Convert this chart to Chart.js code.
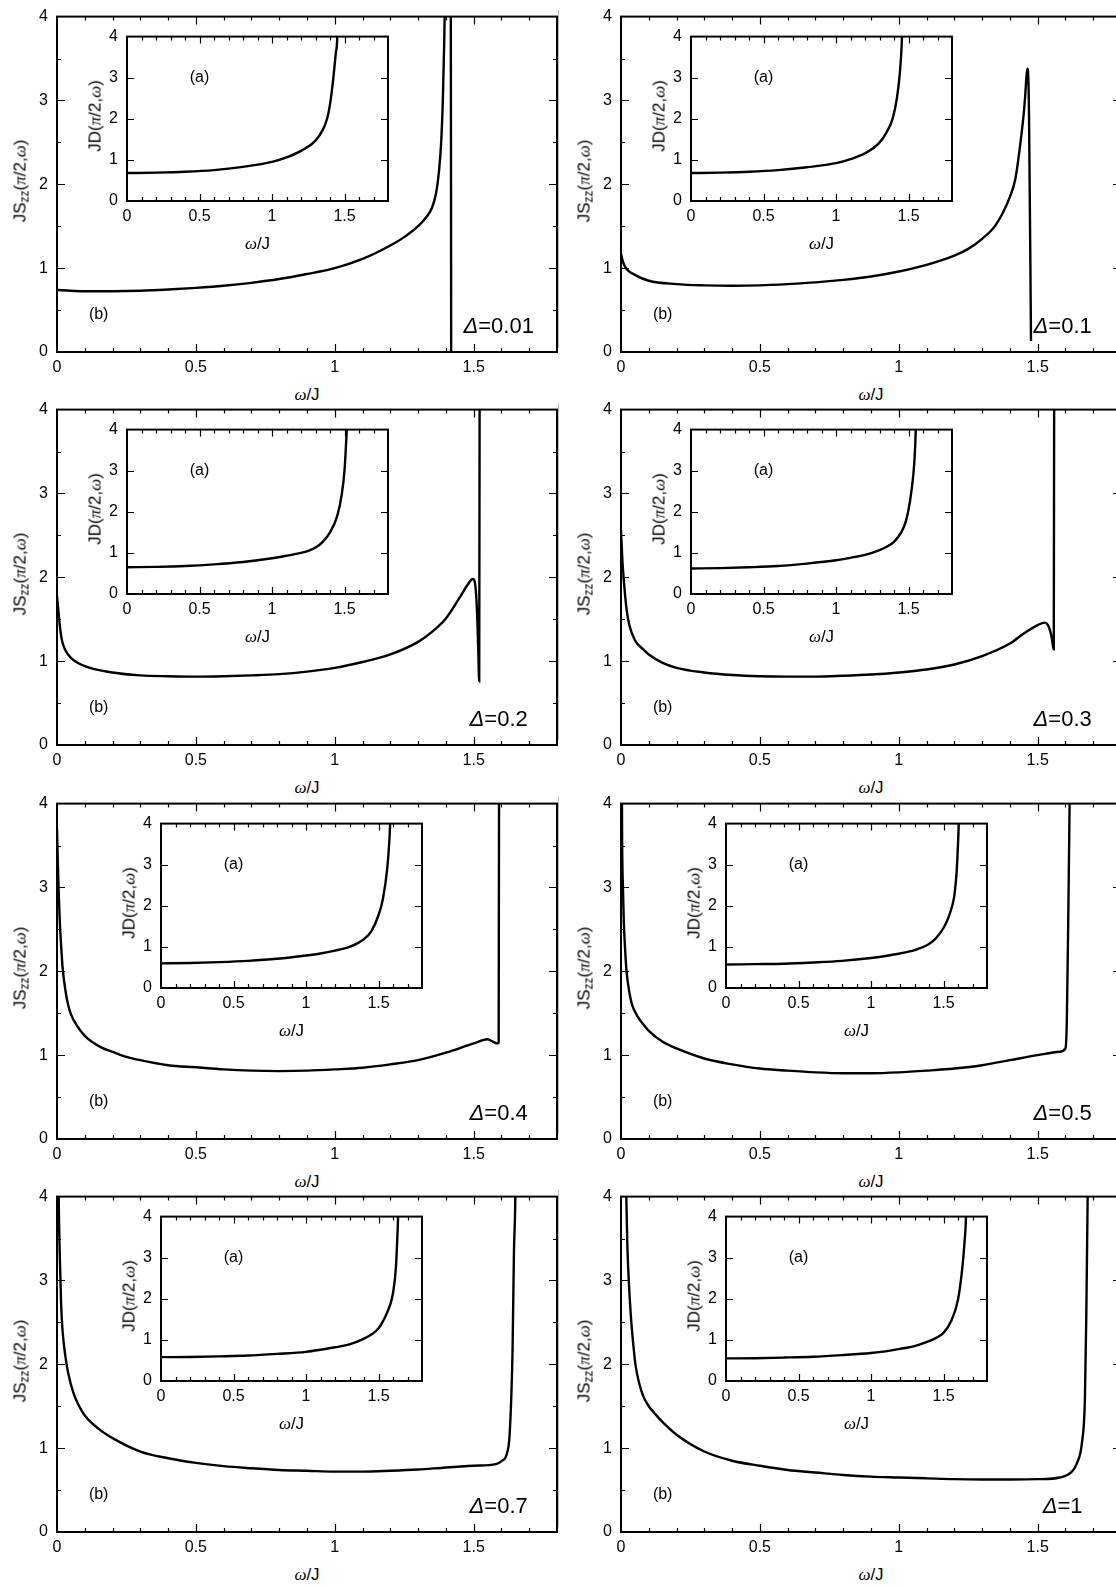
<!DOCTYPE html>
<html>
<head>
<meta charset="utf-8">
<script src="https://cdn.jsdelivr.net/npm/chart.js@4.4.0/dist/chart.umd.min.js"></script>
<style>
  html, body { margin: 0; padding: 0; background: #fff; overflow: hidden; width: 1116px; height: 1589px; }
  .box { position: absolute; }
  .box canvas { display: block; }
  .lbl { position: absolute; font-family: "Liberation Sans", Arial, sans-serif; color: #000; white-space: nowrap; line-height: 1; font-size: 17px; }
  .ytitle { transform: translate(-50%, -50%) rotate(-90deg); }
  .xtitle { transform: translate(-50%, -50%); }
  .gk { font-family: "Liberation Serif", "DejaVu Serif", serif; font-style: italic; }
  sub { font-size: 12px; vertical-align: -3px; line-height: 0; }
  .edge { position: absolute; width: 1px; background: #bdbdbd; }
</style>
</head>
<body>
<script>
// axis ticks
const X_TICKS = [0, 0.5, 1, 1.5];
const X_MINOR = [0.1, 0.2, 0.3, 0.4, 0.6, 0.7, 0.8, 0.9, 1.1, 1.2, 1.3, 1.4, 1.6, 1.7];
const Y_TICKS = [0, 1, 2, 3, 4];
const Y_MINOR_MAIN = [0.5, 1.5, 2.5, 3.5];
const X_MAX = 1.8;
const Y_MAX = 4;

// main curves JS_zz(pi/2, w)
const W_D001 = [0, 0.05, 0.1, 0.2, 0.3, 0.4, 0.5, 0.6, 0.7, 0.8, 0.9, 1.0, 1.1, 1.2, 1.25, 1.3, 1.33, 1.35, 1.365, 1.375, 1.383, 1.389, 1.394, 1.40, 1.417, 1.419];
const S_D001 = [0.74, 0.73, 0.725, 0.725, 0.73, 0.745, 0.765, 0.79, 0.825, 0.87, 0.93, 1.0, 1.11, 1.27, 1.37, 1.5, 1.61, 1.72, 1.9, 2.15, 2.5, 3.0, 3.7, 4.8, 6, 0];

const W_D01 = [0, 0.005, 0.01, 0.02, 0.05, 0.1, 0.2, 0.3, 0.4, 0.5, 0.6, 0.7, 0.8, 0.9, 1.0, 1.1, 1.2, 1.25, 1.3, 1.35, 1.4, 1.42, 1.44, 1.45, 1.455, 1.46, 1.463, 1.466, 1.469, 1.476];
const S_D01 = [1.17, 1.1, 1.05, 0.99, 0.92, 0.85, 0.81, 0.795, 0.79, 0.795, 0.81, 0.83, 0.86, 0.9, 0.96, 1.04, 1.15, 1.23, 1.35, 1.52, 1.85, 2.07, 2.55, 2.85, 3.05, 3.3, 3.38, 3.3, 2.8, 0.13];

const W_D02 = [0, 0.005, 0.01, 0.015, 0.02, 0.03, 0.05, 0.1, 0.2, 0.3, 0.4, 0.5, 0.6, 0.7, 0.8, 0.9, 1.0, 1.1, 1.2, 1.3, 1.35, 1.4, 1.45, 1.48, 1.497, 1.506, 1.512, 1.516, 1.52, 1.522];
const S_D02 = [1.78, 1.6, 1.43, 1.3, 1.22, 1.13, 1.04, 0.94, 0.865, 0.83, 0.82, 0.815, 0.82, 0.83, 0.845, 0.875, 0.92, 0.99, 1.08, 1.23, 1.35, 1.51, 1.76, 1.92, 1.98, 1.9, 1.6, 1.2, 0.76, 6];

const W_D03 = [0, 0.005, 0.01, 0.02, 0.03, 0.05, 0.08, 0.1, 0.15, 0.2, 0.3, 0.4, 0.5, 0.6, 0.7, 0.8, 0.9, 1.0, 1.1, 1.2, 1.3, 1.4, 1.45, 1.5, 1.525, 1.54, 1.55, 1.558, 1.56];
const S_D03 = [2.56, 2.2, 1.97, 1.62, 1.43, 1.25, 1.14, 1.08, 0.98, 0.92, 0.865, 0.835, 0.82, 0.815, 0.815, 0.825, 0.84, 0.865, 0.9, 0.96, 1.06, 1.21, 1.33, 1.43, 1.46, 1.41, 1.29, 1.14, 6];

const W_D04 = [0, 0.003, 0.006, 0.01, 0.015, 0.02, 0.03, 0.04, 0.05, 0.07, 0.1, 0.13, 0.16, 0.2, 0.25, 0.3, 0.4, 0.5, 0.6, 0.7, 0.8, 0.9, 1.0, 1.1, 1.2, 1.3, 1.4, 1.5, 1.55, 1.57, 1.585, 1.59, 1.592];
const S_D04 = [3.7, 3.3, 2.95, 2.6, 2.3, 2.05, 1.78, 1.6, 1.49, 1.36, 1.23, 1.15, 1.09, 1.04, 0.98, 0.94, 0.88, 0.855, 0.83, 0.815, 0.81, 0.815, 0.83, 0.85, 0.89, 0.94, 1.03, 1.14, 1.19, 1.16, 1.14, 1.15, 6];

const W_D05 = [0.001, 0.004, 0.007, 0.01, 0.015, 0.02, 0.03, 0.04, 0.06, 0.08, 0.1, 0.15, 0.2, 0.3, 0.4, 0.5, 0.6, 0.7, 0.8, 0.9, 1.0, 1.1, 1.2, 1.3, 1.4, 1.5, 1.58, 1.6, 1.605, 1.61, 1.615, 1.62];
const S_D05 = [6, 3.6, 3.0, 2.6, 2.25, 2.0, 1.75, 1.6, 1.46, 1.37, 1.29, 1.16, 1.08, 0.96, 0.89, 0.84, 0.815, 0.795, 0.785, 0.785, 0.795, 0.815, 0.84, 0.88, 0.94, 1.0, 1.04, 1.08, 1.41, 2.6, 4.0, 6];

const W_D07 = [0.002, 0.004, 0.006, 0.01, 0.015, 0.02, 0.03, 0.04, 0.06, 0.08, 0.1, 0.15, 0.2, 0.3, 0.4, 0.5, 0.6, 0.7, 0.8, 0.9, 1.0, 1.1, 1.2, 1.3, 1.4, 1.5, 1.58, 1.6, 1.62, 1.63, 1.64, 1.645, 1.65, 1.655];
const S_D07 = [6, 4.8, 4.0, 3.3, 2.7, 2.4, 2.1, 1.9, 1.65, 1.5, 1.39, 1.23, 1.12, 0.96, 0.88, 0.825, 0.785, 0.76, 0.74, 0.73, 0.72, 0.72, 0.73, 0.745, 0.77, 0.79, 0.81, 0.845, 0.94, 1.19, 2.17, 3.34, 4.0, 6];

const W_D1 = [0.012, 0.015, 0.019, 0.023, 0.028, 0.035, 0.043, 0.052, 0.065, 0.08, 0.1, 0.125, 0.15, 0.2, 0.3, 0.4, 0.5, 0.6, 0.7, 0.8, 0.9, 1.0, 1.1, 1.2, 1.3, 1.4, 1.5, 1.58, 1.62, 1.64, 1.66, 1.67, 1.675, 1.68, 1.685];
const S_D1 = [6, 5, 4.0, 3.4, 3.0, 2.6, 2.28, 2.0, 1.78, 1.62, 1.5, 1.4, 1.31, 1.16, 0.96, 0.85, 0.79, 0.74, 0.71, 0.68, 0.66, 0.65, 0.64, 0.63, 0.627, 0.627, 0.63, 0.65, 0.71, 0.81, 1.08, 1.58, 2.56, 4.0, 6];

// inset curves JD(pi/2, w)
const WI_D001 = [0, 0.2, 0.4, 0.6, 0.8, 1.0, 1.1, 1.2, 1.3, 1.35, 1.38, 1.4, 1.42, 1.44, 1.45, 1.455];
const D_D001 = [0.68, 0.69, 0.71, 0.75, 0.83, 0.95, 1.06, 1.22, 1.47, 1.73, 2.0, 2.35, 2.9, 3.6, 4.0, 5];

const WI_D01 = [0, 0.2, 0.4, 0.6, 0.8, 1.0, 1.1, 1.2, 1.3, 1.35, 1.39, 1.42, 1.44, 1.45, 1.455, 1.46];
const D_D01 = [0.68, 0.69, 0.71, 0.75, 0.82, 0.92, 1.02, 1.16, 1.42, 1.68, 2.0, 2.5, 3.1, 3.6, 4.0, 5];

const WI_D02 = [0, 0.2, 0.4, 0.6, 0.8, 1.0, 1.1, 1.2, 1.25, 1.3, 1.35, 1.4, 1.45, 1.48, 1.5, 1.51, 1.515, 1.52];
const D_D02 = [0.65, 0.66, 0.68, 0.72, 0.78, 0.87, 0.93, 1.0, 1.05, 1.13, 1.27, 1.5, 1.9, 2.4, 3.0, 3.6, 4.0, 5];

const WI_D03 = [0, 0.2, 0.4, 0.6, 0.8, 1.0, 1.1, 1.2, 1.3, 1.35, 1.4, 1.45, 1.48, 1.5, 1.52, 1.54, 1.55, 1.555];
const D_D03 = [0.62, 0.63, 0.65, 0.68, 0.74, 0.82, 0.88, 0.95, 1.07, 1.15, 1.27, 1.5, 1.75, 2.05, 2.5, 3.2, 4.0, 5];

const WI_D04 = [0, 0.2, 0.4, 0.6, 0.8, 1.0, 1.1, 1.2, 1.3, 1.35, 1.4, 1.45, 1.5, 1.53, 1.56, 1.575, 1.58, 1.585];
const D_D04 = [0.6, 0.61, 0.63, 0.66, 0.71, 0.79, 0.84, 0.91, 1.0, 1.08, 1.19, 1.38, 1.77, 2.16, 2.9, 3.6, 4.0, 5];

const WI_D05 = [0, 0.2, 0.4, 0.6, 0.8, 1.0, 1.1, 1.2, 1.3, 1.4, 1.45, 1.5, 1.53, 1.55, 1.57, 1.58, 1.59, 1.6, 1.605, 1.61];
const D_D05 = [0.57, 0.58, 0.59, 0.62, 0.66, 0.73, 0.78, 0.84, 0.92, 1.07, 1.22, 1.46, 1.68, 1.88, 2.15, 2.4, 2.8, 3.5, 4.0, 5];

const WI_D07 = [0, 0.2, 0.4, 0.6, 0.8, 1.0, 1.1, 1.2, 1.3, 1.4, 1.45, 1.5, 1.55, 1.58, 1.6, 1.62, 1.63, 1.635, 1.64];
const D_D07 = [0.58, 0.585, 0.6, 0.62, 0.66, 0.71, 0.76, 0.82, 0.89, 1.03, 1.13, 1.28, 1.59, 1.85, 2.14, 2.76, 3.5, 4.0, 5];

const WI_D1 = [0, 0.2, 0.4, 0.6, 0.8, 1.0, 1.1, 1.2, 1.3, 1.4, 1.45, 1.5, 1.55, 1.6, 1.63, 1.645, 1.655, 1.66];
const D_D1 = [0.55, 0.555, 0.57, 0.59, 0.63, 0.68, 0.72, 0.78, 0.85, 0.97, 1.05, 1.17, 1.44, 1.98, 2.76, 3.38, 4.0, 5];

const PANELS = [
  { delta: "0.01", w: W_D001, s: S_D001, wi: WI_D001, d: D_D001 },
  { delta: "0.1", w: W_D01, s: S_D01, wi: WI_D01, d: D_D01 },
  { delta: "0.2", w: W_D02, s: S_D02, wi: WI_D02, d: D_D02 },
  { delta: "0.3", w: W_D03, s: S_D03, wi: WI_D03, d: D_D03 },
  { delta: "0.4", w: W_D04, s: S_D04, wi: WI_D04, d: D_D04 },
  { delta: "0.5", w: W_D05, s: S_D05, wi: WI_D05, d: D_D05 },
  { delta: "0.7", w: W_D07, s: S_D07, wi: WI_D07, d: D_D07 },
  { delta: "1", w: W_D1, s: S_D1, wi: WI_D1, d: D_D1 },
];

// layout (pixels)
const MAIN_LEFT = [57, 621];
const MAIN_TOP = [10, 403, 797, 1190];
const MAIN_W = 500, MAIN_H = 342;
const INSET_LEFT = [[127, 691], [127, 691], [161, 726], [161, 726]];
const INSET_DY = 20, INSET_W = 261, INSET_H = 171;

const FONT = '"Liberation Sans", Arial, Helvetica, sans-serif';
Chart.defaults.font.family = FONT;
Chart.defaults.font.size = 16;
Chart.defaults.color = "#000";

function framePlugin(o) {
  return {
    id: "frame",
    afterDraw(chart) {
      const ctx = chart.ctx;
      const a = chart.chartArea;
      const sx = chart.scales.x;
      const sy = chart.scales.y;
      ctx.save();
      ctx.strokeStyle = "#000";
      ctx.lineWidth = 1.2;
      ctx.beginPath();
      const xt = [[X_TICKS, o.major], [X_MINOR, o.minor]];
      for (const [vals, len] of xt) {
        for (const v of vals) {
          if (v <= 0 || v >= X_MAX) continue;
          const px = Math.round(sx.getPixelForValue(v)) + 0.5;
          ctx.moveTo(px, a.bottom); ctx.lineTo(px, a.bottom - len);
          ctx.moveTo(px, a.top); ctx.lineTo(px, a.top + len);
        }
      }
      const yt = [[Y_TICKS, o.major], [o.yMinor, o.minor]];
      for (const [vals, len] of yt) {
        for (const v of vals) {
          if (v <= 0 || v >= Y_MAX) continue;
          const py = Math.round(sy.getPixelForValue(v)) + 0.5;
          ctx.moveTo(a.left, py); ctx.lineTo(a.left + len, py);
          ctx.moveTo(a.right, py); ctx.lineTo(a.right - len, py);
        }
      }
      ctx.stroke();
      ctx.lineWidth = o.frameW;
      ctx.strokeRect(a.left, a.top, a.right - a.left, a.bottom - a.top);

      ctx.fillStyle = "#000";
      ctx.textBaseline = "middle";
      for (const n of o.notes) {
        let total = 0;
        for (const p of n.parts) {
          ctx.font = p.font;
          total += ctx.measureText(p.t).width;
        }
        let x = sx.getPixelForValue(n.x) - total / 2;
        const y = sy.getPixelForValue(n.y);
        ctx.textAlign = "left";
        for (const p of n.parts) {
          ctx.font = p.font;
          ctx.fillText(p.t, x, y);
          x += ctx.measureText(p.t).width;
        }
      }
      ctx.restore();
    },
  };
}

function makeChart(o) {
  const div = document.createElement("div");
  div.className = "box";
  const W = o.padL + o.w + o.padR;
  const H = o.padT + o.h + o.padB;
  div.style.left = (o.left - o.padL) + "px";
  div.style.top = (o.top - o.padT) + "px";
  div.style.width = W + "px";
  div.style.height = H + "px";
  const cv = document.createElement("canvas");
  cv.width = W;
  cv.height = H;
  cv.style.width = W + "px";
  cv.style.height = H + "px";
  div.appendChild(cv);
  document.body.appendChild(div);

  new Chart(cv, {
    type: "line",
    data: {
      datasets: [{
        data: o.xs.map((x, i) => ({ x, y: o.ys[i] })),
        borderColor: "#000",
        borderWidth: o.lw,
        pointRadius: 0,
        cubicInterpolationMode: "monotone",
        fill: false,
      }],
    },
    options: {
      responsive: false,
      animation: false,
      devicePixelRatio: 1,
      events: [],
      layout: { padding: { left: 0, top: o.padT, right: o.padR, bottom: 0 } },
      plugins: { legend: { display: false }, tooltip: { enabled: false } },
      scales: {
        x: {
          type: "linear", min: 0, max: X_MAX,
          grid: { display: false, drawTicks: false }, border: { display: false },
          ticks: { padding: o.xPad, maxRotation: 0, autoSkip: false, font: { size: 16 }, callback: (v) => String(v) },
          afterBuildTicks: (s) => { s.ticks = X_TICKS.map((v) => ({ value: v })); },
          afterFit: (s) => { s.height = o.padB; },
        },
        y: {
          type: "linear", min: 0, max: Y_MAX,
          grid: { display: false, drawTicks: false }, border: { display: false },
          ticks: { padding: o.yPad, font: { size: 16 }, callback: (v) => String(v) },
          afterBuildTicks: (s) => { s.ticks = Y_TICKS.map((v) => ({ value: v })); },
          afterFit: (s) => { s.width = o.padL; },
        },
      },
    },
    plugins: [framePlugin(o)],
  });
}

function addLabel(html, x, y, cls) {
  const el = document.createElement("div");
  el.className = "lbl " + cls;
  el.style.left = x + "px";
  el.style.top = y + "px";
  el.innerHTML = html;
  document.body.appendChild(el);
}

const MAIN_YTITLE = 'JS<sub>zz</sub>(<span class="gk">π</span>/2,<span class="gk">ω</span>)';
const INSET_YTITLE = 'JD(<span class="gk">π</span>/2,<span class="gk">ω</span>)';
const XTITLE = '<span class="gk">ω</span>/J';

PANELS.forEach((p, i) => {
  const row = Math.floor(i / 2);
  const col = i % 2;
  const left = MAIN_LEFT[col];
  const top = MAIN_TOP[row];

  if (col === 1) {
    const e = document.createElement("div");
    e.className = "edge";
    e.style.left = "558px";
    e.style.top = top + "px";
    e.style.height = (MAIN_H - 5) + "px";
    document.body.appendChild(e);
  }

  makeChart({
    left, top, w: MAIN_W, h: MAIN_H,
    padL: 50, padR: 12, padT: 12, padB: 30,
    xPad: 6, yPad: 9,
    xs: p.w, ys: p.s, lw: 2.4, frameW: 2,
    yMinor: Y_MINOR_MAIN, major: 8, minor: 4,
    notes: [
      { x: 0.15, y: 0.45, parts: [{ t: "(b)", font: "16px " + FONT }] },
      { x: 1.59, y: 0.30, parts: [
        { t: "Δ", font: "italic 22px " + FONT },
        { t: "=" + p.delta, font: "22px " + FONT },
      ] },
    ],
  });
  addLabel(MAIN_YTITLE, left - 37, top + MAIN_H / 2, "ytitle");
  addLabel(XTITLE, left + 250, top + MAIN_H + 42, "xtitle");

  const il = INSET_LEFT[row][col];
  const it = top + INSET_DY;
  makeChart({
    left: il, top: it, w: INSET_W, h: INSET_H,
    padL: 40, padR: 12, padT: 12, padB: 30,
    xPad: 6, yPad: 9,
    xs: p.wi, ys: p.d, lw: 2.4, frameW: 2,
    yMinor: [], major: 7, minor: 4,
    notes: [{ x: 0.5, y: 3.0, parts: [{ t: "(a)", font: "16px " + FONT }] }],
  });
  addLabel(INSET_YTITLE, il - 32, it + INSET_H / 2, "ytitle");
  addLabel(XTITLE, il + INSET_W / 2, it + INSET_H + 42, "xtitle");
});
</script>
</body>
</html>
